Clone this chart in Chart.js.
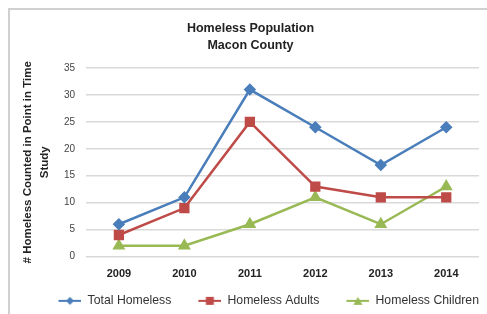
<!DOCTYPE html>
<html>
<head>
<meta charset="utf-8">
<script src="https://cdn.jsdelivr.net/npm/chart.js@4/dist/chart.umd.min.js"></script>
<style>
  html, body { margin: 0; padding: 0; background: #fff; }
  #wrap { position: relative; width: 487px; height: 314px; overflow: hidden; }
  #frame { position: absolute; left: 8px; top: 8px; width: 490px; height: 320px; border: 2px solid #d0d0d0; box-sizing: border-box; }
  #chart1 { position: absolute; left: 0; top: 0; }
</style>
</head>
<body>
<div id="wrap">
  <div id="frame"></div>
  <canvas id="chart1" width="487" height="314"></canvas>
</div>
<script>
const years = ["2009", "2010", "2011", "2012", "2013", "2014"];
const totalHomeless = [6, 11, 31, 24, 17, 24];
const homelessAdults = [4, 9, 25, 13, 11, 11];
const homelessChildren = [2, 2, 6, 11, 6, 13];

const blue = "#4a7ebb";
const red = "#be4b48";
const green = "#98b954";

// legend swatch: line with the marker on top, like excel.
// blank strip on the left gives the gap between legend items
const gap = 24;
function swatch(color, style) {
    const c = document.createElement("canvas");
    c.width = gap + 23;
    c.height = 10;
    const ctx = c.getContext("2d");
    const cx = gap + 11.5;
    ctx.strokeStyle = color;
    ctx.fillStyle = color;
    ctx.lineWidth = 2;
    ctx.beginPath();
    ctx.moveTo(gap, 5);
    ctx.lineTo(gap + 23, 5);
    ctx.stroke();
    ctx.beginPath();
    if (style === "rectRot") {
        ctx.moveTo(cx, 1); ctx.lineTo(cx + 4, 5); ctx.lineTo(cx, 9); ctx.lineTo(cx - 4, 5);
    } else if (style === "rect") {
        ctx.rect(cx - 4, 1, 8, 8);
    } else {
        ctx.moveTo(cx, 1); ctx.lineTo(cx + 4.5, 9); ctx.lineTo(cx - 4.5, 9);
    }
    ctx.closePath();
    ctx.fill();
    return c;
}

function series(label, values, color, style, radius) {
    return {
        label: label,
        data: values,
        borderColor: color,
        backgroundColor: color,
        borderWidth: 2.5,
        pointStyle: style,
        pointRadius: radius,
        pointHoverRadius: radius,
        tension: 0,
        swatchStyle: style
    };
}

const element = document.getElementById("chart1");
new Chart(element, {
    type: "line",
    data: {
        labels: years,
        datasets: [
            series("Total Homeless", totalHomeless, blue, "rectRot", 4.5),
            series("Homeless Adults", homelessAdults, red, "rect", 5.5),
            series("Homeless Children", homelessChildren, green, "triangle", 5)
        ]
    },
    options: {
        responsive: false,
        animation: false,
        layout: { padding: { left: 19, right: 5, top: 14, bottom: -3 } },
        scales: {
            x: {
                offset: true,
                grid: { display: false, drawTicks: false },
                border: { display: false },
                ticks: { color: "#222", font: { family: "Liberation Sans", size: 11, weight: "bold" }, padding: 11 }
            },
            y: {
                min: 0,
                max: 35,
                ticks: { stepSize: 5, color: "#444", font: { family: "Liberation Sans", size: 10 }, padding: 11 },
                grid: { color: "#d9d9d9", lineWidth: 1.5, drawTicks: false },
                border: { display: false },
                title: {
                    display: true,
                    text: ["# Homeless Counted in Point in Time", "Study"],
                    color: "#222",
                    font: { family: "Liberation Sans", size: 11.5, weight: "bold", lineHeight: 1.48 },
                    padding: 0
                }
            }
        },
        plugins: {
            title: {
                display: true,
                text: ["Homeless Population", "Macon County"],
                color: "#222",
                font: { family: "Liberation Sans", size: 12.5, weight: "bold", lineHeight: 1.36 },
                padding: { top: 6, bottom: 14 }
            },
            legend: {
                position: "bottom",
                align: "end",
                labels: {
                    usePointStyle: true,
                    pointStyleWidth: gap + 23,
                    boxHeight: 10,
                    color: "#333",
                    font: { family: "Liberation Sans", size: 12.25 },
                    padding: 3,
                    generateLabels: (chart) => chart.data.datasets.map((ds, i) => ({
                        text: ds.label,
                        fontColor: "#333",
                        pointStyle: swatch(ds.borderColor, ds.swatchStyle),
                        datasetIndex: i,
                        hidden: false,
                        lineWidth: 0
                    }))
                }
            },
            tooltip: { enabled: false }
        }
    }
});
</script>
</body>
</html>
